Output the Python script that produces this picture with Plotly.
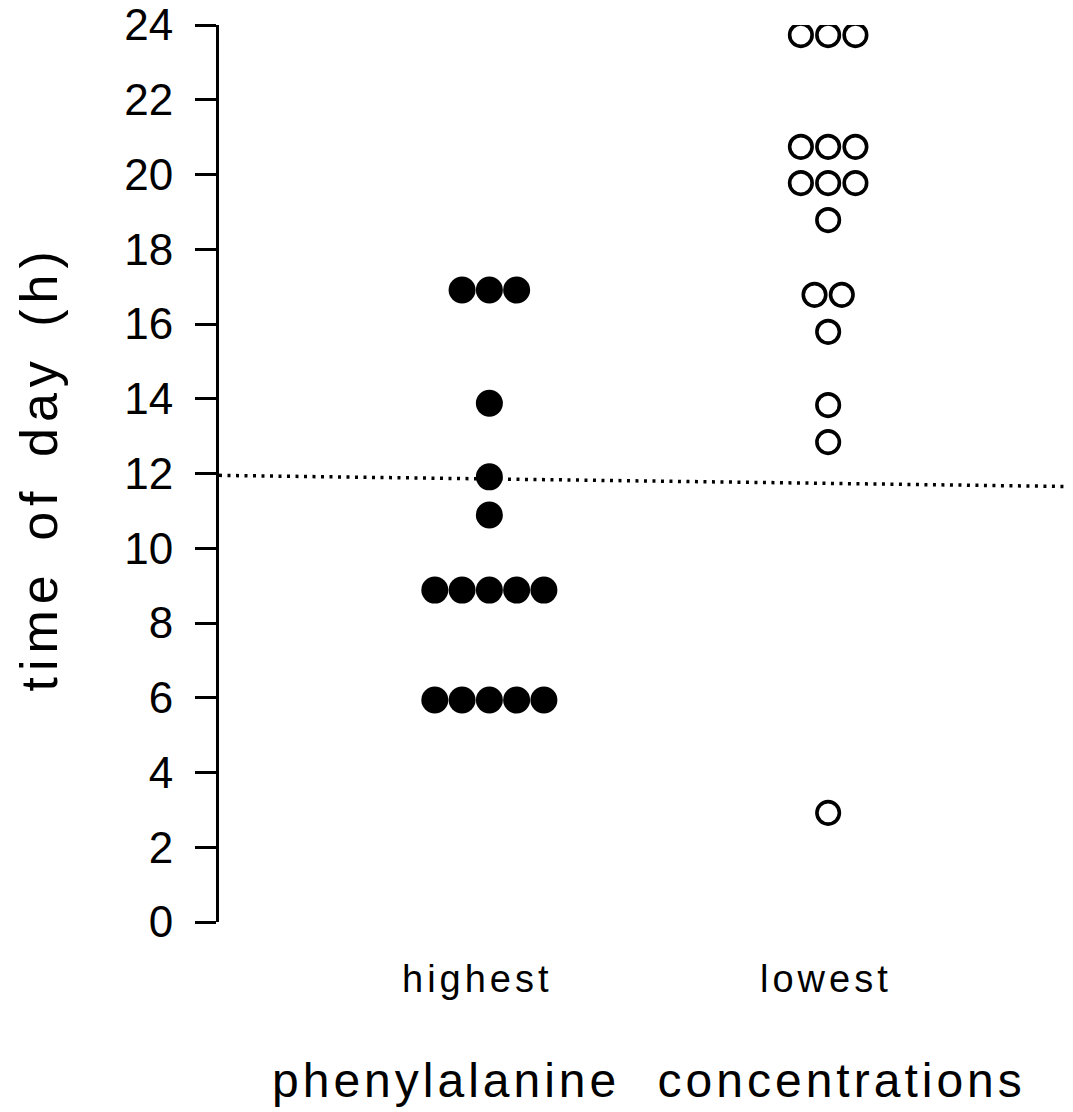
import plotly.graph_objects as go
from collections import Counter

# ---- data ----
categories = ["highest", "lowest"]
highest_times = [16.91, 16.91, 16.91, 13.88, 11.91, 10.89,
                 8.88, 8.88, 8.88, 8.88, 8.88,
                 5.94, 5.94, 5.94, 5.94, 5.94]
lowest_times = [23.73, 23.73, 23.73, 20.74, 20.74, 20.74,
                19.77, 19.77, 19.77, 18.78, 16.78, 16.78,
                15.79, 13.83, 12.84, 2.92]
noon_line_y = [11.95, 11.65]
y_ticks = list(range(0, 25, 2))
x_title = "phenylalanine concentrations"
y_title = "time of day (h)"

# ---- layout helpers ----
STEP = 0.0805
X_LO, X_HI = 0.202, 2.7227


def swarm(center, values, step):
    counts = Counter(values)
    seen = {}
    xs = []
    for v in values:
        n = counts[v]
        k = seen.get(v, 0)
        seen[v] = k + 1
        xs.append(center + (k - (n - 1) / 2) * step)
    return xs


FONT = "Liberation Sans, Arial, Helvetica, sans-serif"

fig = go.Figure()

fig.add_trace(go.Scatter(
    x=[X_LO, X_HI], y=noon_line_y, mode="lines",
    line=dict(color="black", width=3.5, dash="3px,5.5px"),
    hoverinfo="skip"))

fig.add_trace(go.Scatter(
    x=swarm(1, highest_times, STEP), y=highest_times, mode="markers",
    marker=dict(symbol="circle", size=27, color="black", line=dict(width=0)),
    name=categories[0]))

fig.add_trace(go.Scatter(
    x=swarm(2, lowest_times, STEP), y=lowest_times, mode="markers",
    marker=dict(symbol="circle-open", size=22.5, color="black", line=dict(width=3.6, color="black")),
    name=categories[1]))

fig.update_layout(
    width=1065, height=1104,
    margin=dict(l=211, r=0, t=17, b=190, autoexpand=False),
    plot_bgcolor="white", paper_bgcolor="white",
    showlegend=False,
    font=dict(family=FONT, color="black"),
)

fig.update_yaxes(
    range=[0, 24], tickvals=y_ticks, ticktext=[str(v) for v in y_ticks],
    showline=True, linewidth=3, linecolor="black",
    ticks="outside", ticklen=21, tickwidth=3, tickcolor="black",
    showgrid=False, zeroline=False, automargin=False,
    tickfont=dict(size=44, family=FONT, color="black"),
    ticklabelstandoff=13, ticklabeloverflow="allow",
)

fig.update_xaxes(
    range=[X_LO, X_HI], showticklabels=False, automargin=False,
    showline=False, ticks="", showgrid=False, zeroline=False,
)

# category labels below each column
for cx, label, dx in zip([1, 2], categories, [-12, -2]):
    fig.add_annotation(
        text='<span style="letter-spacing:4px">%s</span>' % label,
        xref="x", yref="paper", x=cx, y=0, xshift=dx, yshift=-57,
        xanchor="center", yanchor="middle", showarrow=False,
        font=dict(size=38, family=FONT, color="black"))

fig.add_annotation(
    text='<span style="letter-spacing:6px;word-spacing:8px">%s</span>' % y_title,
    xref="paper", yref="paper", x=0, y=0.5, xshift=-181, yshift=5,
    xanchor="center", yanchor="middle", textangle=-90, showarrow=False,
    font=dict(size=52, family=FONT, color="black"))

fig.add_annotation(
    text='<span style="letter-spacing:4px;word-spacing:20px">%s</span>' % x_title,
    xref="paper", yref="paper", x=0.503, y=0, yshift=-158,
    xanchor="center", yanchor="middle", showarrow=False,
    font=dict(size=48, family=FONT, color="black"))

fig.write_html("out.html")
